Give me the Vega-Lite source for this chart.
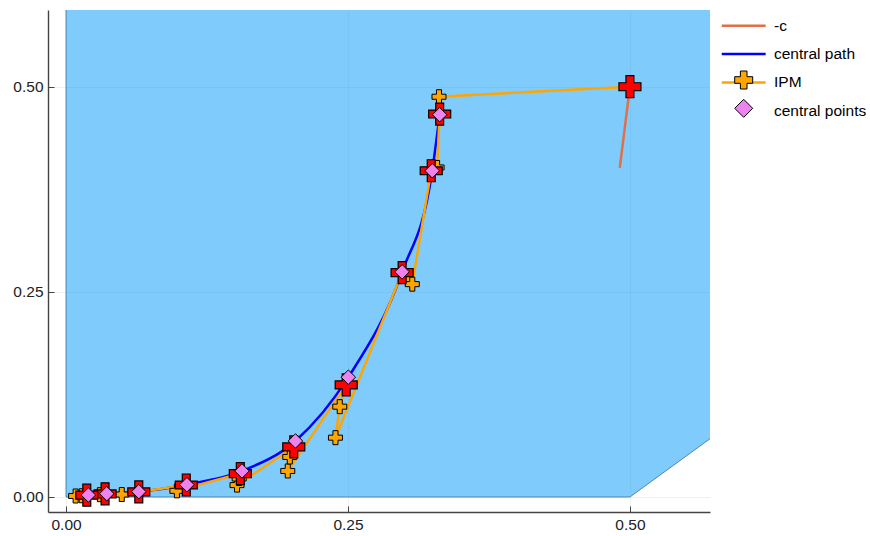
{
  "$schema": "https://vega.github.io/schema/vega-lite/v6.json",
  "width": 662,
  "height": 502,
  "autosize": {"type": "none"},
  "padding": {"left": 48, "top": 10, "right": 160, "bottom": 24},
  "background": "white",
  "config": {"view": {"stroke": null}, "font": "Liberation Sans", "legend": {"symbolBaseFillColor": "#ee82ee", "symbolBaseStrokeColor": "black"}},
  "datasets": {
    "region": [
      {"x": 0, "y": 0.7, "y2": 0},
      {"x": 0.5, "y": 0.7, "y2": 0},
      {"x": 0.7, "y": 0.7, "y2": 0.2}
    ],
    "border": [
      {"o": 1, "x": 0, "y": 0.7},
      {"o": 2, "x": 0, "y": 0},
      {"o": 3, "x": 0.5, "y": 0},
      {"o": 4, "x": 0.7, "y": 0.2}
    ],
    "cvec": [
      {"s": "-c", "i": 1, "x": 0.5, "y": 0.5},
      {"s": "-c", "i": 2, "x": 0.491, "y": 0.401}
    ],
    "cpath": [
      {"s": "central path", "x": 0.008, "y": 0.001},
      {"s": "central path", "x": 0.0198, "y": 0.0024},
      {"s": "central path", "x": 0.0361, "y": 0.004},
      {"s": "central path", "x": 0.0645, "y": 0.0065},
      {"s": "central path", "x": 0.1072, "y": 0.015},
      {"s": "central path", "x": 0.156, "y": 0.0317},
      {"s": "central path", "x": 0.2034, "y": 0.0683},
      {"s": "central path", "x": 0.2503, "y": 0.146},
      {"s": "central path", "x": 0.298, "y": 0.2744},
      {"s": "central path", "x": 0.3247, "y": 0.3976},
      {"s": "central path", "x": 0.3313, "y": 0.4659}
    ],
    "ipm": [
      {"s": "IPM", "i": 1, "x": 0.5, "y": 0.5, "red": true},
      {"s": "IPM", "i": 2, "x": 0.3307, "y": 0.4878, "red": false},
      {"s": "IPM", "i": 3, "x": 0.3313, "y": 0.4667, "red": true},
      {"s": "IPM", "i": 4, "x": 0.329, "y": 0.4016, "red": false},
      {"s": "IPM", "i": 5, "x": 0.3238, "y": 0.3976, "red": true},
      {"s": "IPM", "i": 6, "x": 0.307, "y": 0.2594, "red": false},
      {"s": "IPM", "i": 7, "x": 0.298, "y": 0.2735, "red": true},
      {"s": "IPM", "i": 8, "x": 0.2389, "y": 0.0723, "red": false},
      {"s": "IPM", "i": 9, "x": 0.2427, "y": 0.1101, "red": false},
      {"s": "IPM", "i": 10, "x": 0.2484, "y": 0.1366, "red": true},
      {"s": "IPM", "i": 11, "x": 0.1966, "y": 0.0317, "red": false},
      {"s": "IPM", "i": 12, "x": 0.1984, "y": 0.0488, "red": false},
      {"s": "IPM", "i": 13, "x": 0.2019, "y": 0.061, "red": true},
      {"s": "IPM", "i": 14, "x": 0.1516, "y": 0.0145, "red": false},
      {"s": "IPM", "i": 15, "x": 0.1535, "y": 0.0225, "red": false},
      {"s": "IPM", "i": 16, "x": 0.1545, "y": 0.0285, "red": true},
      {"s": "IPM", "i": 17, "x": 0.0983, "y": 0.0075, "red": false},
      {"s": "IPM", "i": 18, "x": 0.1066, "y": 0.0146, "red": true},
      {"s": "IPM", "i": 19, "x": 0.0494, "y": 0.003, "red": false},
      {"s": "IPM", "i": 20, "x": 0.0645, "y": 0.0062, "red": true},
      {"s": "IPM", "i": 21, "x": 0.03, "y": 0.0028, "red": false},
      {"s": "IPM", "i": 22, "x": 0.0346, "y": 0.0038, "red": true},
      {"s": "IPM", "i": 23, "x": 0.0139, "y": 0.0015, "red": false},
      {"s": "IPM", "i": 24, "x": 0.0184, "y": 0.0022, "red": true},
      {"s": "IPM", "i": 25, "x": 0.0085, "y": 0.0012, "red": false}
    ],
    "cpts": [
      {"s": "central points", "x": 0.0198, "y": 0.0024},
      {"s": "central points", "x": 0.0361, "y": 0.004},
      {"s": "central points", "x": 0.0645, "y": 0.0065},
      {"s": "central points", "x": 0.1072, "y": 0.015},
      {"s": "central points", "x": 0.156, "y": 0.0317},
      {"s": "central points", "x": 0.2034, "y": 0.0683},
      {"s": "central points", "x": 0.2503, "y": 0.146},
      {"s": "central points", "x": 0.298, "y": 0.2744},
      {"s": "central points", "x": 0.3247, "y": 0.3976},
      {"s": "central points", "x": 0.3313, "y": 0.4659}
    ]
  },
  "encoding": {
    "x": {
      "field": "x", "type": "quantitative",
      "scale": {"domain": [-0.016, 0.571], "nice": false, "zero": false},
      "axis": {
        "values": [0, 0.25, 0.5], "format": ".2f", "title": null,
        "grid": true, "gridColor": "black", "gridOpacity": 0.1, "gridWidth": 0.6,
        "domainColor": "#444", "domainWidth": 1.4,
        "tickColor": "#444", "tickWidth": 1, "tickSize": -6,
        "labelPadding": 11, "labelFont": "Liberation Sans", "labelFontSize": 15.5,
        "labelColor": "#222", "labelFlush": false
      }
    },
    "y": {
      "field": "y", "type": "quantitative",
      "scale": {"domain": [-0.0183, 0.5935], "nice": false, "zero": false},
      "axis": {
        "values": [0, 0.25, 0.5], "format": ".2f", "title": null,
        "grid": true, "gridColor": "black", "gridOpacity": 0.1, "gridWidth": 0.6,
        "domainColor": "#444", "domainWidth": 1.4,
        "tickColor": "#444", "tickWidth": 1, "tickSize": -6,
        "labelPadding": 11, "labelFont": "Liberation Sans", "labelFontSize": 15.5,
        "labelColor": "#222", "labelFlush": false
      }
    }
  },
  "layer": [
    {
      "data": {"name": "region"},
      "mark": {"type": "area", "fill": "#009afa", "fillOpacity": 0.5, "clip": true},
      "encoding": {"y2": {"field": "y2"}}
    },
    {
      "data": {"name": "border"},
      "mark": {"type": "line", "stroke": "#4f86b0", "strokeWidth": 1, "clip": true},
      "encoding": {"order": {"field": "o", "type": "quantitative"}}
    },
    {
      "data": {"name": "cvec"},
      "mark": {"type": "line", "strokeWidth": 2.5, "clip": true},
      "encoding": {
        "order": {"field": "i", "type": "quantitative"},
        "stroke": {
          "field": "s", "type": "nominal",
          "scale": {"domain": ["-c", "central path", "IPM", "central points"], "range": ["#e26f46", "#0000ff", "#ffa500", "rgba(0,0,0,0)"]},
          "legend": {
            "orient": "none", "legendX": 685.2, "legendY": 5.2, "title": null,
            "values": ["-c", "central path", "IPM", "central points"],
            "symbolType": "M-2.44,0H2.44", "symbolSize": 324, "symbolStrokeWidth": 2.5,
            "symbolFillColor": "rgba(0,0,0,0)",
            "labelFont": "Liberation Sans", "labelFontSize": 15.5, "labelColor": "black",
            "labelOffset": 19.8, "rowPadding": 9.35, "padding": 0, "zindex": 1
          }
        }
      }
    },
    {
      "data": {"name": "cpath"},
      "mark": {"type": "line", "strokeWidth": 2.5, "interpolate": "monotone", "clip": true},
      "encoding": {
        "stroke": {
          "field": "s", "type": "nominal",
          "scale": {"domain": ["-c", "central path", "IPM", "central points"], "range": ["#e26f46", "#0000ff", "#ffa500", "rgba(0,0,0,0)"]}
        }
      }
    },
    {
      "data": {"name": "ipm"},
      "mark": {"type": "line", "strokeWidth": 2.5, "clip": true},
      "encoding": {
        "order": {"field": "i", "type": "quantitative"},
        "stroke": {
          "field": "s", "type": "nominal",
          "scale": {"domain": ["-c", "central path", "IPM", "central points"], "range": ["#e26f46", "#0000ff", "#ffa500", "rgba(0,0,0,0)"]}
        }
      }
    },
    {
      "data": {"name": "ipm"},
      "transform": [
        {"calculate": "datum.s + ' '", "as": "m"},
        {"calculate": "datum.s + '  '", "as": "m2"}
      ],
      "mark": {"type": "point", "filled": true, "size": 196, "stroke": "black", "strokeWidth": 1, "opacity": 1, "clip": true},
      "encoding": {
        "fill": {
          "field": "m", "type": "nominal",
          "scale": {"domain": ["IPM ", "central points "], "range": ["#ffa500", "#ee82ee"]},
          "legend": {
            "orient": "none", "legendX": 685.2, "legendY": 59.5, "title": null,
            "values": ["IPM "],
            "symbolType": "M-0.9,-0.33H-0.33V-0.9H0.33V-0.33H0.9V0.33H0.33V0.9H-0.33V0.33H-0.9Z",
            "symbolSize": 400, "symbolOpacity": 1,
            "symbolStrokeColor": "black", "symbolStrokeWidth": 1,
            "labelFont": "Liberation Sans", "labelFontSize": 15.5, "labelExpr": "''",
            "padding": 0, "zindex": 2
          }
        },
        "shape": {
          "field": "m2", "type": "nominal",
          "scale": {"domain": ["IPM  ", "central points  "], "range": ["M-1,-0.36H-0.36V-1H0.36V-0.36H1V0.36H0.36V1H-0.36V0.36H-1Z", "M0,-1L1,0L0,1L-1,0Z"]},
          "legend": {
            "orient": "none", "legendX": 686.2, "legendY": 88.8, "title": null,
            "values": ["central points  "],
            "symbolSize": 324, "symbolOpacity": 1,
            "symbolFillColor": "#ee82ee", "symbolStrokeColor": "black", "symbolStrokeWidth": 1,
            "labelFont": "Liberation Sans", "labelFontSize": 15.5, "labelExpr": "''",
            "padding": 0, "zindex": 2
          }
        }
      }
    },
    {
      "data": {"name": "ipm"},
      "transform": [{"filter": "datum.red"}],
      "mark": {"type": "point", "filled": true, "shape": "M-1,-0.36H-0.36V-1H0.36V-0.36H1V0.36H0.36V1H-0.36V0.36H-1Z", "size": 484, "fill": "#ff0000", "stroke": "black", "strokeWidth": 1.2, "opacity": 1, "clip": true}
    },
    {
      "data": {"name": "cpts"},
      "transform": [
        {"calculate": "datum.s + ' '", "as": "m"},
        {"calculate": "datum.s + '  '", "as": "m2"}
      ],
      "mark": {"type": "point", "filled": true, "size": 210, "stroke": "black", "strokeWidth": 1, "opacity": 1, "clip": true},
      "encoding": {
        "fill": {
          "field": "m", "type": "nominal",
          "scale": {"domain": ["IPM ", "central points "], "range": ["#ffa500", "#ee82ee"]}
        },
        "shape": {
          "field": "m2", "type": "nominal",
          "scale": {"domain": ["IPM  ", "central points  "], "range": ["M-1,-0.36H-0.36V-1H0.36V-0.36H1V0.36H0.36V1H-0.36V0.36H-1Z", "M0,-1L1,0L0,1L-1,0Z"]}
        }
      }
    }
  ]
}
